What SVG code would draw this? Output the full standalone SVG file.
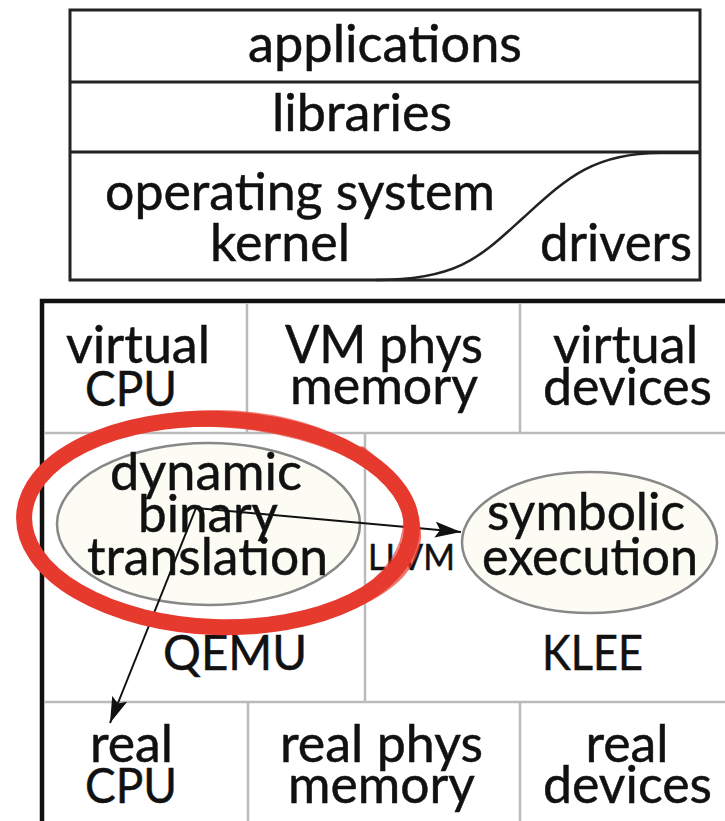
<svg xmlns="http://www.w3.org/2000/svg" width="725" height="821" viewBox="0 0 725 821">
<style>
text{font-family:Lato,"Open Sans","Liberation Sans",sans-serif;fill:#111;stroke:#111;stroke-width:0.5;text-anchor:middle;font-size:52px}
.c{font-size:48px}
.s{font-size:36px}
.box{fill:#fff;stroke:#222;stroke-width:3}
.grid{stroke:#bbb;stroke-width:2.5;fill:none}
.ell{fill:#fcfcf4;stroke:#888;stroke-width:2.5}
.conn{stroke:#111;stroke-width:2;fill:none}
.red{fill:none;stroke:#e63a2e;stroke-linecap:round}
</style>
<defs>
<marker id="ah" viewBox="0 0 26 16" refX="26" refY="8" markerWidth="26" markerHeight="16" markerUnits="userSpaceOnUse" orient="auto"><path d="M0,0 L26,8 L0,16 L5,8 z" fill="#111"/></marker>
</defs>
<rect width="725" height="821" fill="#fff"/>
<g id="stack">
<rect class="box" x="70" y="10" width="630" height="270"/>
<line x1="70" y1="82" x2="700" y2="82" stroke="#222" stroke-width="3"/>
<line x1="70" y1="152" x2="700" y2="152" stroke="#222" stroke-width="3"/>
<path d="M376 280 C460 280 482 255 523 218 C565 180 592 153 660 153 L700 153" fill="none" stroke="#222" stroke-width="2.5"/>
</g>
<g id="applications"><text x="385" y="62" textLength="274" lengthAdjust="spacingAndGlyphs">applications</text></g>
<g id="libraries"><text x="362" y="131" textLength="180" lengthAdjust="spacingAndGlyphs">libraries</text></g>
<g id="kernel"><text x="300" y="210" textLength="390" lengthAdjust="spacingAndGlyphs">operating system</text><text x="280" y="261" textLength="140" lengthAdjust="spacingAndGlyphs">kernel</text></g>
<g id="drivers"><text x="616" y="261" textLength="152" lengthAdjust="spacingAndGlyphs">drivers</text></g>
<g id="host">
<rect x="42" y="301" width="700" height="540" fill="#fff" stroke="#111" stroke-width="4.5"/>
<line class="grid" x1="44" y1="433" x2="725" y2="433"/>
<line class="grid" x1="44" y1="702" x2="725" y2="702"/>
<line class="grid" x1="247" y1="303" x2="247" y2="433"/>
<line class="grid" x1="520" y1="303" x2="520" y2="433"/>
<line class="grid" x1="365" y1="433" x2="365" y2="702"/>
<line class="grid" x1="248" y1="702" x2="248" y2="821"/>
<line class="grid" x1="520" y1="702" x2="520" y2="821"/>
</g>
<g id="virtual-cpu"><text x="138" y="363" textLength="144" lengthAdjust="spacingAndGlyphs">virtual</text><text class="c" x="131" y="406" textLength="92" lengthAdjust="spacingAndGlyphs">CPU</text></g>
<g id="vm-phys-memory"><text x="384" y="363" textLength="198" lengthAdjust="spacingAndGlyphs">VM phys</text><text x="384" y="404" textLength="188" lengthAdjust="spacingAndGlyphs">memory</text></g>
<g id="virtual-devices"><text x="625.5" y="363" textLength="145" lengthAdjust="spacingAndGlyphs">virtual</text><text x="627.5" y="405" textLength="169" lengthAdjust="spacingAndGlyphs">devices</text></g>
<g id="qemu"><text class="c" x="235" y="670" textLength="144" lengthAdjust="spacingAndGlyphs">QEMU</text></g>
<g id="klee"><text class="c" x="592.5" y="670" textLength="101" lengthAdjust="spacingAndGlyphs">KLEE</text></g>
<g id="llvm"><text class="s" x="411.5" y="570" textLength="87" lengthAdjust="spacingAndGlyphs">LLVM</text></g>
<g id="dbt"><ellipse class="ell" cx="208.5" cy="524" rx="151.5" ry="81"/><text x="206" y="490" textLength="192" lengthAdjust="spacingAndGlyphs">dynamic</text><text x="208" y="532" textLength="140" lengthAdjust="spacingAndGlyphs">binary</text><text x="207.5" y="575" textLength="241" lengthAdjust="spacingAndGlyphs">translation</text></g>
<g id="symbolic-execution"><ellipse class="ell" cx="589.5" cy="542.5" rx="127.5" ry="70.5"/><text x="586" y="530" textLength="198" lengthAdjust="spacingAndGlyphs">symbolic</text><text x="590" y="575" textLength="216" lengthAdjust="spacingAndGlyphs">execution</text></g>
<g id="real-cpu"><text x="131.5" y="762" textLength="83" lengthAdjust="spacingAndGlyphs">real</text><text class="c" x="131" y="803" textLength="92" lengthAdjust="spacingAndGlyphs">CPU</text></g>
<g id="real-phys-memory"><text x="381.5" y="762" textLength="203" lengthAdjust="spacingAndGlyphs">real phys</text><text x="381.5" y="803" textLength="187" lengthAdjust="spacingAndGlyphs">memory</text></g>
<g id="real-devices"><text x="627" y="762" textLength="83" lengthAdjust="spacingAndGlyphs">real</text><text x="627.5" y="803" textLength="169" lengthAdjust="spacingAndGlyphs">devices</text></g>
<g id="connectors">
<line class="conn" x1="196" y1="508" x2="461" y2="532" marker-end="url(#ah)"/>
<line class="conn" x1="196" y1="508" x2="110" y2="723" marker-end="url(#ah)"/>
</g>
<g id="highlight">
<ellipse class="red" cx="218" cy="523" rx="194" ry="104" transform="rotate(2 218 523)" stroke-width="16"/>
<ellipse class="red" cx="220" cy="525" rx="199" ry="100" transform="rotate(4 220 525)" stroke-width="5" opacity="0.7"/>
<ellipse class="red" cx="216" cy="521" rx="189" ry="109" transform="rotate(0 216 521)" stroke-width="4" opacity="0.65"/>
<path class="red" d="M362 450 C386 468 402 490 408 512" stroke-width="7" opacity="0.8"/>
</g>
</svg>
